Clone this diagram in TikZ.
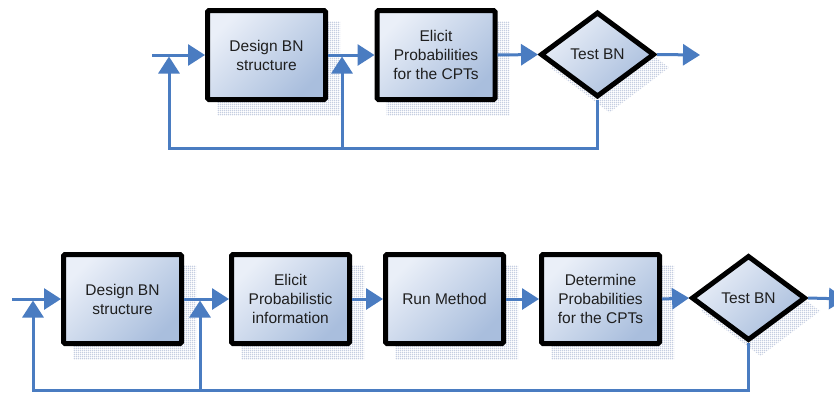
\documentclass[tikz,border=0pt]{standalone}
\usepackage{fontspec}
\setmainfont{Liberation Sans}
\usetikzlibrary{shapes.geometric,arrows.meta,patterns,backgrounds}
\definecolor{flow}{HTML}{4A7CC1}
\definecolor{boxlight}{HTML}{EAEFF8}
\definecolor{boxdark}{HTML}{A9BEDD}
\definecolor{shad}{HTML}{BFC9DE}
\pgfdeclarepatternformonly{shadowgrid}{\pgfpointorigin}{\pgfpoint{2pt}{2pt}}{\pgfpoint{2pt}{2pt}}{%
  \pgfpathrectangle{\pgfpointorigin}{\pgfpoint{2pt}{1pt}}%
  \pgfpathrectangle{\pgfpointorigin}{\pgfpoint{1pt}{2pt}}%
  \pgfusepath{fill}}
\tikzset{
  box/.style={draw=black, line width=5pt, rounded corners=1.5pt,
    minimum width=118pt, minimum height=89pt, inner sep=0pt, align=center,
    font=\fontsize{15.5}{19}\selectfont, text=black!88,
    top color=boxlight, bottom color=boxdark, shading angle=45},
  dia/.style={diamond, draw=black, line width=5pt,
    minimum width=114pt, minimum height=85pt, inner sep=0pt, align=center,
    font=\fontsize{15.5}{19}\selectfont, text=black!88,
    top color=boxlight, bottom color=boxdark, shading angle=45},
  flowline/.style={draw=flow, line width=3pt},
  arr/.style={flowline, -{Triangle[length=17pt,width=21pt]}},
  shadowfill/.style={pattern=shadowgrid, pattern color=shad},
}
\begin{document}
\begin{tikzpicture}[x=1pt,y=-1pt]
\useasboundingbox (0,0) rectangle (834,392);
\clip (0,0) rectangle (834,392);
% ---------- top diagram ----------
\coordinate (tin) at (152,55);
\node[box] (t1) at (266.5,55) {Design BN\\structure};
\node[box] (t2) at (436,55) {Elicit\\Probabilities\\for the CPTs};
\node[dia] (t3) at (597.5,54.5) {Test BN};
\coordinate (tout) at (700,55);
\coordinate (ta) at (169,56.5);
\coordinate (tb) at (342,56.5);
\coordinate (tfl) at (169,148);
\coordinate (tfm) at (342,148);
\draw[arr] (tin) -- (t1.west);
\draw[arr] (t1.east) -- (t2.west);
\draw[arr] (t2.east) -- (t3.west);
\draw[arr] (t3.east) -- (tout);
\draw[arr] (t3.south) |- (tfl) -- (ta);
\draw[arr] (tfm) -- (tb);
% ---------- bottom diagram ----------
\coordinate (bin) at (12,299);
\node[box] (b1) at (122.5,299) {Design BN\\structure};
\node[box] (b2) at (290.5,299) {Elicit\\Probabilistic\\information};
\node[box] (b3) at (444.5,299) {Run Method};
\node[box] (b4) at (600.5,299) {Determine\\Probabilities\\for the CPTs};
\node[dia] (b5) at (748.5,298) {Test BN};
\coordinate (bout) at (846,299);
\coordinate (ba) at (33,300.5);
\coordinate (bb) at (200,300.5);
\coordinate (bfl) at (33,390);
\coordinate (bfm) at (200,390);
\draw[arr] (bin) -- (b1.west);
\draw[arr] (b1.east) -- (b2.west);
\draw[arr] (b2.east) -- (b3.west);
\draw[arr] (b3.east) -- (b4.west);
\draw[arr] (b4.east) -- (b5.west);
\draw[arr] (b5.east) -- (bout);
\draw[arr] (b5.south) |- (bfl) -- (ba);
\draw[arr] (bfm) -- (bb);
% ---------- shadows ----------
\begin{scope}[on background layer]
\fill[white] (0,0) rectangle (834,392);
\foreach \n in {t1,t2,b1,b2,b3,b4}{
  \fill[shadowfill] ([shift={(12,13)}]\n.north west) rectangle ([shift={(12,13)}]\n.south east);
}
\foreach \n in {t3,b5}{
  \fill[shadowfill] ([shift={(12,13)}]\n.north) -- ([shift={(12,13)}]\n.east)
    -- ([shift={(12,13)}]\n.south) -- ([shift={(12,13)}]\n.west) -- cycle;
}
\end{scope}
\end{tikzpicture}
\end{document}
